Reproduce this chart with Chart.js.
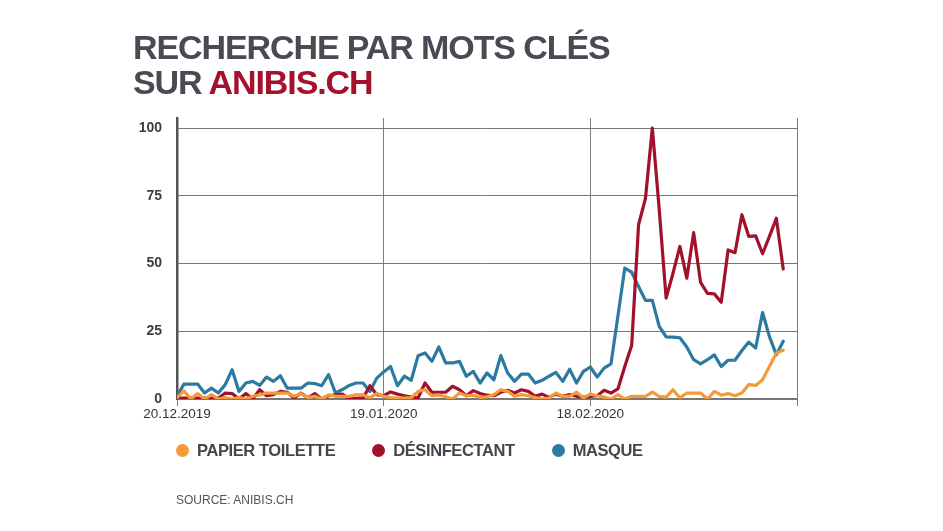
<!DOCTYPE html>
<html><head><meta charset="utf-8">
<script src="https://cdn.jsdelivr.net/npm/chart.js@4.4.1/dist/chart.umd.min.js"></script>
<style>
html,body{margin:0;padding:0;background:#fff;}
body{width:943px;height:531px;position:relative;overflow:hidden;font-family:"Liberation Sans",Arial,sans-serif;}
#c{position:absolute;left:0;top:0;}
.title{position:absolute;left:133px;top:30px;font-weight:bold;font-size:34px;line-height:35px;letter-spacing:-1.1px;color:#4a4a55;white-space:nowrap;}
.title .red{color:#a5102c;}
#legend{position:absolute;left:176px;top:441px;display:flex;align-items:center;gap:37px;}
.item{display:flex;align-items:center;gap:8px;font-weight:bold;font-size:16.5px;letter-spacing:-0.4px;color:#45454f;white-space:nowrap;}
.dot{width:13px;height:13px;border-radius:50%;}
.source{position:absolute;left:176px;top:493px;font-family:"Liberation Sans Narrow","Liberation Sans",sans-serif;font-size:12px;color:#555;}
</style></head>
<body>
<canvas id="c" width="943" height="531"></canvas>
<div class="title">RECHERCHE PAR MOTS CLÉS<br>SUR <span class="red">ANIBIS.CH</span></div>
<div id="legend"></div>
<div class="source">SOURCE: ANIBIS.CH</div>
<script>
// Day offsets from 20.12.2019 for the labelled ticks
const tickDays = [0, 30, 60, 90];
const tickLabels = ['20.12.2019', '19.01.2020', '18.02.2020', ''];

const seriesNames = ['PAPIER TOILETTE', 'DÉSINFECTANT', 'MASQUE'];
const seriesColors = ['#f39a3b', '#a3102b', '#2c79a1'];

const papier = [
  0.5, 3, 0, 2, 0, 1.6, 0, 0.5, 0, 0.5,
  0, 1, 1.5, 2.2, 2.2, 2.2, 2.2, 1, 2, 0.5,
  1, 0, 1.5, 1, 1, 1, 1.5, 1.5, 0.5, 2,
  1, 0.5, 0.3, 0.3, 0.5, 2.8, 3.4, 1.2, 1.5, 0.8,
  0, 2.2, 1.2, 1.4, 0.6, 0.8, 1.6, 3.4, 2.8, 1,
  1.6, 1.2, 0.5, 0, 0.3, 2.2, 1, 1, 2.5, 0.4,
  1.8, 1.2, 0.7, 0, 1.6, 0, 1, 1, 1, 2.5,
  1, 0.7, 3.4, 0.4, 2.2, 2.2, 2.2, 0, 2.8, 1.4,
  2, 1.2, 2.2, 5.3, 5, 7.1, 12, 17, 18
];
const desinfectant = [
  0.3, 0.3, 0.3, 0.3, 0.3, 0.3, 0.3, 2.2, 2, 0,
  2, 0, 3.4, 1.2, 1.6, 2.8, 2.5, 0.4, 2.2, 0.4,
  2, 0, 1.2, 1.5, 1.8, 0, 0.2, 0.4, 4.9, 1.6,
  1.2, 2.6, 1.8, 1.2, 0.7, 0.4, 5.9, 2.5, 2.5, 2.5,
  4.7, 3.4, 1.2, 3.1, 2, 1.4, 1.2, 2.5, 3.2, 2.2,
  3.4, 2.8, 1, 1.8, 0.6, 1.8, 1, 1.6, 1, 0.7,
  1, 1.2, 3.2, 2.2, 3.7, 12, 19.7, 64.3, 74, 100,
  70, 37.2, 46.4, 56.3, 44.6, 61.4, 43, 39, 38.8, 35.7,
  55, 54, 68, 60, 60.2, 53.6, 60, 66.7, 48
];
const masque = [
  1, 5.5, 5.5, 5.5, 2.2, 4, 2.2, 5.3, 10.8, 2.8,
  5.9, 6.5, 5, 8.1, 6.5, 8.6, 4, 4, 4, 5.9,
  5.7, 4.9, 9, 2.2, 3.5, 5, 5.9, 5.9, 2.8, 7.7,
  10, 12, 4.9, 8.4, 6.9, 16, 17, 13.9, 19.2, 13.3,
  13.3, 13.9, 8.4, 10.2, 5.9, 9.6, 7.1, 16, 9.6, 6.5,
  9.2, 9.2, 5.9, 6.9, 8.4, 9.8, 6.5, 11, 5.9, 10.2,
  11.8, 8.1, 11.4, 13, 30.5, 48.3, 46.8, 41.5, 36.4, 36.4,
  26.8, 22.9, 22.8, 22.6, 19.2, 14.5, 13, 14.5, 16.3, 12,
  14.3, 14.3, 17.9, 21, 18.8, 31.9, 23, 16.3, 21.3
];
const yTicks = [0, 25, 50, 75, 100];

const allSeries = [papier, desinfectant, masque];
const toPoints = arr => arr.map((v, i) => ({x: i, y: v}));

const chart = new Chart(document.getElementById('c'), {
  type: 'line',
  data: {
    datasets: allSeries.map((s, k) => ({
      label: seriesNames[k],
      data: toPoints(s),
      borderColor: seriesColors[k],
      backgroundColor: seriesColors[k],
      borderWidth: 3.2,
      pointRadius: 0,
      tension: 0,
      borderJoinStyle: 'round',
      borderCapStyle: 'round',
      fill: false
    }))
  },
  options: {
    responsive: false,
    animation: false,
    layout: {padding: {left: 100, right: 146, top: 118, bottom: 102}},
    plugins: {legend: {display: false}, tooltip: {enabled: false}},
    scales: {
      x: {
        type: 'linear', min: 0, max: 90,
        afterFit: s => { s.height = 30; },
        afterBuildTicks: s => { s.ticks = tickDays.map(v => ({value: v})); },
        ticks: {
          autoSkip: false, maxRotation: 0, padding: 0, color: '#333',
          font: {family: 'Liberation Sans', size: 13.5},
          callback: v => { const i = tickDays.indexOf(v); return i >= 0 ? tickLabels[i] : ''; }
        },
        grid: {color: '#7d7d7d', lineWidth: 1, drawTicks: true, tickLength: 7},
        border: {display: true, color: '#777', width: 2}
      },
      y: {
        min: 0, max: 103.7,
        afterFit: s => { s.width = 77; },
        afterBuildTicks: s => { s.ticks = yTicks.map(v => ({value: v})); },
        ticks: {
          padding: 15, color: '#3c3c46',
          font: {family: 'Liberation Sans', size: 14, weight: 'bold'}
        },
        grid: {color: '#777', lineWidth: 1, drawTicks: false},
        border: {display: true, color: '#555', width: 2.5}
      }
    }
  }
});

const legend = document.getElementById('legend');
chart.data.datasets.forEach(ds => {
  const item = document.createElement('div');
  item.className = 'item';
  const dot = document.createElement('span');
  dot.className = 'dot';
  dot.style.background = ds.borderColor;
  const txt = document.createElement('span');
  txt.textContent = ds.label;
  item.appendChild(dot);
  item.appendChild(txt);
  legend.appendChild(item);
});
</script>
</body></html>
